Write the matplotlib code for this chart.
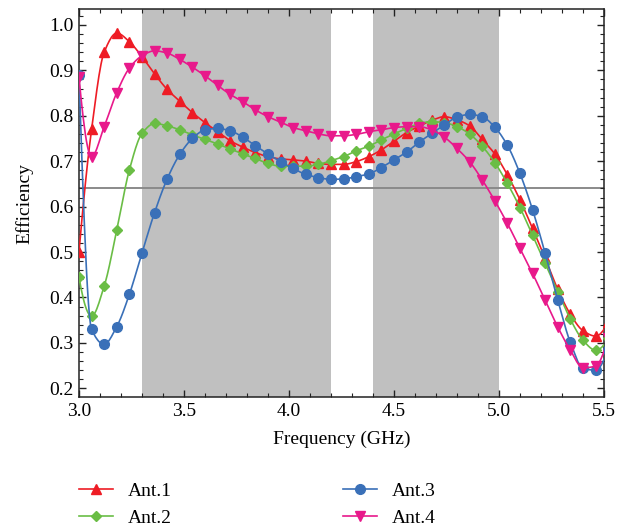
import numpy as np
import matplotlib
matplotlib.use("Agg")
import matplotlib.pyplot as plt
from matplotlib.ticker import MultipleLocator, FormatStrFormatter

plt.rcParams['font.family'] = ['Liberation Serif', 'DejaVu Serif']

# sample frequencies (GHz), one marker every 60 MHz
freq = np.round(np.arange(3.0, 5.53, 0.06), 2)

ant1 = [0.500, 0.770, 0.940, 0.982, 0.963, 0.930, 0.892, 0.858, 0.832, 0.807,
        0.785, 0.765, 0.745, 0.731, 0.719, 0.710, 0.705, 0.703, 0.700, 0.695,
        0.693, 0.693, 0.699, 0.710, 0.725, 0.744, 0.763, 0.777, 0.790, 0.798,
        0.791, 0.778, 0.748, 0.716, 0.670, 0.615, 0.552, 0.486, 0.418, 0.363,
        0.327, 0.315, 0.345]
ant2 = [0.445, 0.359, 0.425, 0.548, 0.681, 0.761, 0.783, 0.778, 0.769, 0.758,
        0.748, 0.738, 0.727, 0.716, 0.706, 0.695, 0.689, 0.689, 0.689, 0.693,
        0.701, 0.710, 0.723, 0.733, 0.747, 0.760, 0.772, 0.783, 0.787, 0.785,
        0.776, 0.760, 0.733, 0.697, 0.651, 0.598, 0.537, 0.475, 0.413, 0.352,
        0.306, 0.284, 0.310]
ant3 = [0.890, 0.330, 0.297, 0.336, 0.407, 0.498, 0.587, 0.661, 0.715, 0.750,
        0.769, 0.772, 0.767, 0.753, 0.734, 0.716, 0.699, 0.684, 0.671, 0.664,
        0.660, 0.661, 0.666, 0.672, 0.686, 0.703, 0.720, 0.742, 0.761, 0.780,
        0.797, 0.803, 0.798, 0.775, 0.735, 0.673, 0.593, 0.497, 0.394, 0.301,
        0.244, 0.240, 0.285]
ant4 = [0.885, 0.710, 0.776, 0.851, 0.905, 0.932, 0.943, 0.938, 0.924, 0.907,
        0.888, 0.867, 0.847, 0.831, 0.813, 0.798, 0.786, 0.774, 0.767, 0.760,
        0.756, 0.756, 0.759, 0.765, 0.769, 0.774, 0.776, 0.776, 0.769, 0.753,
        0.728, 0.699, 0.659, 0.613, 0.563, 0.508, 0.453, 0.394, 0.335, 0.284,
        0.245, 0.249, 0.310]

bands = [(3.3, 4.2), (4.4, 5.0)]
threshold = 0.64

SUB = 12  # curve steps between two samples


def smooth(x, y, sub=SUB):
    # monotone cubic (Fritsch-Carlson) through the samples,
    # knots kept at every sub-th point so markevery lands on them
    x = np.asarray(x, float)
    y = np.asarray(y, float)
    n = len(x)
    h = np.diff(x)
    delta = np.diff(y) / h
    d = np.zeros(n)
    for k in range(1, n - 1):
        if delta[k - 1] * delta[k] > 0:
            w1 = 2 * h[k] + h[k - 1]
            w2 = h[k] + 2 * h[k - 1]
            d[k] = (w1 + w2) / (w1 / delta[k - 1] + w2 / delta[k])
    for k, (i0, i1) in ((0, (0, 1)), (n - 1, (n - 2, n - 3))):
        dk = ((2 * h[i0] + h[i1]) * delta[i0] - h[i0] * delta[i1]) / (h[i0] + h[i1])
        if np.sign(dk) != np.sign(delta[i0]):
            dk = 0.0
        elif np.sign(delta[i0]) != np.sign(delta[i1]) and abs(dk) > 3 * abs(delta[i0]):
            dk = 3 * delta[i0]
        d[k] = dk
    xs, ys = [], []
    for i in range(n - 1):
        t = np.linspace(0, 1, sub, endpoint=False)
        h00 = 2 * t**3 - 3 * t**2 + 1
        h10 = t**3 - 2 * t**2 + t
        h01 = -2 * t**3 + 3 * t**2
        h11 = t**3 - t**2
        seg = h00 * y[i] + h10 * h[i] * d[i] + h01 * y[i + 1] + h11 * h[i] * d[i + 1]
        xs.extend(x[i] + t * h[i])
        ys.extend(seg)
    xs.append(x[-1])
    ys.append(y[-1])
    return np.array(xs), np.array(ys)


fig = plt.figure(figsize=(6.18, 5.27), dpi=100)
ax = fig.add_axes([0.1278, 0.2467, 0.8495, 0.7362])

for lo, hi in bands:
    ax.axvspan(lo, hi, color='#c0c0c0', lw=0, zorder=0)
ax.axhline(threshold, color='#8a8a8a', lw=1.4, zorder=1)

series = [
    (ant1, 'Ant.1', '#ee1c25', '^', 7.5),
    (ant2, 'Ant.2', '#6abd45', 'D', 5.5),
    (ant3, 'Ant.3', '#3a70b8', 'o', 7),
    (ant4, 'Ant.4', '#e8198b', 'v', 7.5),
]
for vals, name, col, mk, ms in series:
    xs, ys = smooth(freq, vals)
    ax.plot(xs, ys, color=col, lw=1.2, marker=mk, ms=ms, markevery=SUB,
            mec=col, mfc=col, label=name, zorder=3)

ax.set_xlim(3.0, 5.5)
ax.set_ylim(0.181, 1.035)
ax.xaxis.set_major_locator(MultipleLocator(0.5))
ax.xaxis.set_minor_locator(MultipleLocator(0.1))
ax.yaxis.set_major_locator(MultipleLocator(0.1))
ax.yaxis.set_minor_locator(MultipleLocator(0.02))
ax.xaxis.set_major_formatter(FormatStrFormatter('%.1f'))
ax.yaxis.set_major_formatter(FormatStrFormatter('%.1f'))
ax.tick_params(which='both', direction='in', top=True, right=True,
               labelsize=14, color='#222222')
ax.tick_params(which='major', length=5, width=1, pad=4)
ax.tick_params(which='minor', length=3, width=0.8)
for s in ax.spines.values():
    s.set_linewidth(1.1)
    s.set_color('#222222')

ax.set_xlabel('Frequency (GHz)', fontsize=14, labelpad=8)
ax.set_ylabel('Efficiency', fontsize=14, labelpad=11)

fig.legend(loc='upper left', bbox_to_anchor=(0.128, 0.085), ncol=2,
           frameon=False, fontsize=14, numpoints=1, handlelength=1.75,
           handletextpad=0.77, columnspacing=8.8, labelspacing=0.5,
           borderpad=0, borderaxespad=0)

fig.savefig('out.png', dpi=100)
